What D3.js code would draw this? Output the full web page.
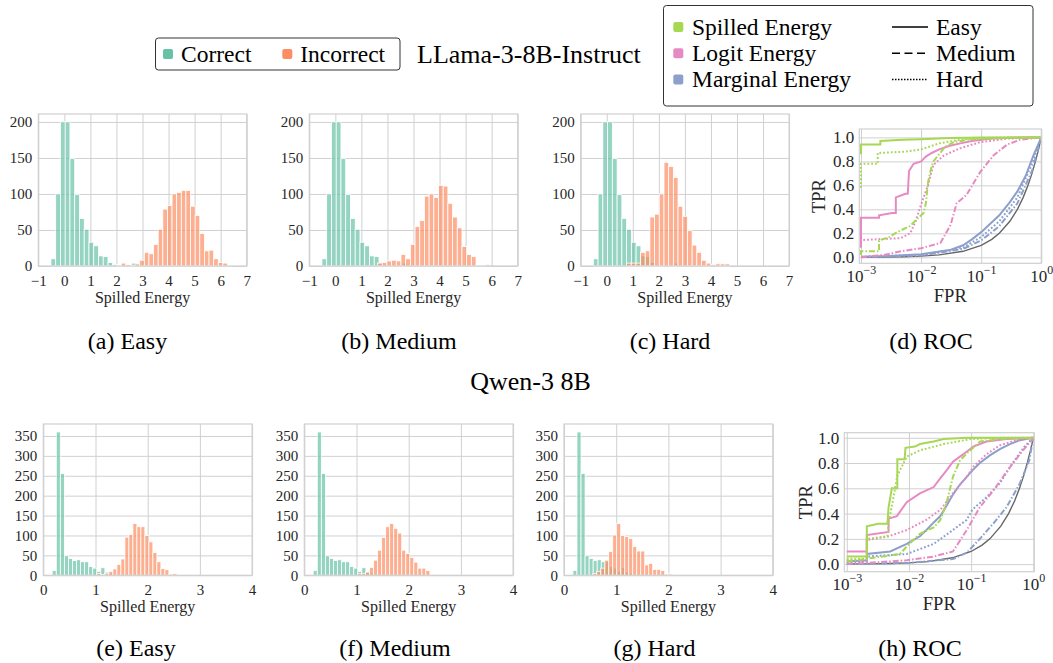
<!DOCTYPE html>
<html lang="en">
<head>
<meta charset="UTF-8">
<title>Spilled Energy histograms and ROC</title>
<script src="https://cdn.jsdelivr.net/npm/d3@7"></script>
<style>
  body { margin: 0; background: #fff; }
  svg { display: block; }
  svg text { font-family: 'Liberation Serif', 'DejaVu Serif', serif; }
</style>
</head>
<body>
<svg width="1053" height="663"></svg>
<script>
// ---------- histogram data (counts per bin; bin = [first edge, bin width]) ----------
const llamaCorrectBin = [-0.515, 0.1825];
const llamaCorrectCounts = [10, 100, 200, 200, 149, 99, 66, 51, 33, 28, 14, 13, 5, 2, 1, 0, 1, 4];
const llamaEasyBin = [2.006, 0.1774];
const llamaEasyCounts = [1, 4, 2, 1, 3, 8, 19, 17, 30, 51, 79, 84, 100, 102, 105, 105, 83, 70, 45, 21, 22, 10, 5, 4, 1];
const llamaMediumBin = [1.62, 0.18];
const llamaMediumCounts = [4, 5, 7, 8, 7, 16, 10, 30, 55, 63, 97, 100, 95, 112, 111, 87, 68, 53, 27, 16, 13, 1, 1, 2];
const llamaHardBin = [0.757, 0.18];
const llamaHardCounts = [4, 4, 4, 19, 21, 68, 72, 100, 144, 138, 123, 83, 69, 49, 29, 19, 8, 4, 2, 3, 3, 3];

const qwenCorrectBin = [0.171, 0.0776];
const qwenCorrectCounts = [12, 360, 256, 49, 42, 37, 39, 34, 34, 22, 18, 10, 19, 8, 5];
const qwenEasyBin = [1.027, 0.0766];
const qwenEasyCounts = [4, 2, 4, 10, 16, 27, 41, 96, 102, 130, 122, 122, 100, 84, 57, 34, 17, 14, 3, 4];
const qwenMediumBin = [1.02, 0.077];
const qwenMediumCounts = [4, 4, 8, 20, 38, 63, 95, 122, 130, 118, 106, 63, 55, 45, 33, 18, 18, 12];
const qwenHardBin = [0.55, 0.0767];
const qwenHardCounts = [4, 10, 18, 38, 60, 101, 130, 100, 97, 92, 72, 61, 61, 26, 30, 15, 15, 12, 3, 3];

// ---------- ROC data, [FPR, TPR] ----------
const llamaSpilledEasy = [[0.001, 0.86], [0.001, 0.94], [0.0021, 0.94], [0.0021, 0.97], [0.005, 0.98], [0.01, 0.985], [0.03, 0.995], [0.1, 1], [1, 1]];
const llamaSpilledMedium = [[0.001, 0.02], [0.001, 0.05], [0.002, 0.05], [0.002, 0.14], [0.003, 0.17], [0.004, 0.21], [0.0065, 0.26], [0.009, 0.33], [0.011, 0.37], [0.012, 0.45], [0.013, 0.62], [0.0145, 0.73], [0.016, 0.8], [0.02, 0.86], [0.025, 0.92], [0.035, 0.96], [0.06, 0.98], [0.2, 0.995], [1, 1]];
const llamaSpilledHard = [[0.001, 0.58], [0.001, 0.78], [0.0019, 0.78], [0.0019, 0.87], [0.005, 0.88], [0.01, 0.9], [0.02, 0.95], [0.05, 0.985], [0.2, 1], [1, 1]];
const llamaLogitEasy = [[0.001, 0.08], [0.001, 0.33], [0.002, 0.33], [0.002, 0.35], [0.0033, 0.37], [0.0038, 0.37], [0.0038, 0.5], [0.0055, 0.53], [0.006, 0.53], [0.0063, 0.72], [0.0075, 0.78], [0.01, 0.8], [0.012, 0.84], [0.015, 0.87], [0.02, 0.9], [0.03, 0.93], [0.045, 0.95], [0.07, 0.97], [0.15, 0.99], [0.4, 1], [1, 1]];
const llamaLogitMedium = [[0.001, 0.0], [0.0024, 0.02], [0.0046, 0.05], [0.01, 0.075], [0.021, 0.12], [0.031, 0.27], [0.039, 0.45], [0.057, 0.52], [0.096, 0.71], [0.16, 0.85], [0.27, 0.94], [0.44, 0.98], [1, 1]];
const llamaLogitHard = [[0.001, 0.1], [0.001, 0.144], [0.0046, 0.16], [0.0066, 0.2], [0.0081, 0.3], [0.01, 0.44], [0.013, 0.6], [0.016, 0.77], [0.024, 0.85], [0.045, 0.91], [0.096, 0.96], [0.27, 0.99], [0.74, 1], [1, 1]];
const llamaMarginalEasy = [[0.001, 0.005], [0.003, 0.01], [0.01, 0.025], [0.03, 0.06], [0.05, 0.1], [0.07, 0.15], [0.1, 0.21], [0.2, 0.35], [0.3, 0.46], [0.4, 0.55], [0.55, 0.68], [0.74, 0.85], [1, 1]];
const llamaMarginalMedium = [[0.001, 0.002], [0.01, 0.015], [0.05, 0.07], [0.1, 0.14], [0.2, 0.26], [0.4, 0.45], [0.7, 0.72], [1, 1]];
const llamaMarginalHard = [[0.001, 0.004], [0.01, 0.02], [0.05, 0.08], [0.1, 0.17], [0.2, 0.3], [0.4, 0.5], [0.7, 0.78], [1, 1]];

const qwenSpilledEasy = [[0.001, 0.06], [0.0021, 0.06], [0.0021, 0.3], [0.0032, 0.32], [0.0045, 0.32], [0.0047, 0.45], [0.0053, 0.6], [0.0065, 0.6], [0.0065, 0.83], [0.0085, 0.83], [0.0088, 0.92], [0.0125, 0.93], [0.015, 0.95], [0.025, 0.97], [0.036, 0.99], [0.085, 1], [1, 1]];
const qwenSpilledMedium = [[0.001, 0.02], [0.0072, 0.08], [0.0092, 0.14], [0.015, 0.24], [0.025, 0.29], [0.032, 0.35], [0.04, 0.48], [0.051, 0.69], [0.066, 0.82], [0.096, 0.9], [0.14, 0.97], [0.29, 0.99], [1, 1]];
const qwenSpilledHard = [[0.001, 0.04], [0.0021, 0.04], [0.0021, 0.2], [0.0045, 0.22], [0.0047, 0.33], [0.0055, 0.5], [0.0065, 0.7], [0.0092, 0.85], [0.015, 0.9], [0.036, 0.95], [0.1, 0.99], [0.3, 1], [1, 1]];
const qwenLogitEasy = [[0.001, 0.1], [0.0021, 0.1], [0.0021, 0.23], [0.0047, 0.255], [0.0047, 0.36], [0.0064, 0.38], [0.0092, 0.49], [0.015, 0.56], [0.025, 0.61], [0.032, 0.68], [0.04, 0.74], [0.051, 0.81], [0.075, 0.87], [0.108, 0.93], [0.177, 0.97], [0.37, 0.99], [1, 1]];
const qwenLogitMedium = [[0.001, 0.0], [0.0092, 0.03], [0.025, 0.06], [0.051, 0.1], [0.085, 0.27], [0.138, 0.45], [0.226, 0.58], [0.37, 0.73], [0.61, 0.87], [1, 1]];
const qwenLogitHard = [[0.001, 0.03], [0.0021, 0.03], [0.0021, 0.19], [0.0047, 0.22], [0.0092, 0.27], [0.019, 0.35], [0.032, 0.43], [0.051, 0.56], [0.085, 0.69], [0.108, 0.77], [0.177, 0.87], [0.29, 0.94], [0.53, 0.98], [1, 1]];
const qwenMarginalEasy = [[0.001, 0.02], [0.0021, 0.03], [0.0021, 0.08], [0.005, 0.1], [0.0092, 0.16], [0.015, 0.22], [0.02, 0.28], [0.025, 0.33], [0.032, 0.38], [0.04, 0.46], [0.051, 0.55], [0.066, 0.63], [0.085, 0.69], [0.104, 0.74], [0.138, 0.8], [0.2, 0.86], [0.29, 0.91], [0.42, 0.95], [0.6, 0.98], [1, 1]];
const qwenMarginalMedium = [[0.001, 0.0], [0.01, 0.01], [0.051, 0.04], [0.085, 0.09], [0.138, 0.2], [0.226, 0.32], [0.37, 0.45], [0.61, 0.64], [0.86, 0.82], [1, 1]];
const qwenMarginalHard = [[0.001, 0.01], [0.0021, 0.02], [0.0021, 0.06], [0.0092, 0.08], [0.025, 0.16], [0.051, 0.27], [0.085, 0.35], [0.104, 0.43], [0.177, 0.53], [0.29, 0.64], [0.45, 0.79], [0.72, 0.93], [1, 1]];

// chance diagonal (TPR = FPR)
const chanceLine = [[0.001, 0.001], [0.002, 0.002], [0.005, 0.005], [0.01, 0.01], [0.02, 0.02], [0.05, 0.05], [0.1, 0.1], [0.15, 0.15], [0.2, 0.2], [0.3, 0.3], [0.4, 0.4], [0.5, 0.5], [0.6, 0.6], [0.7, 0.7], [0.8, 0.8], [0.9, 0.9], [1, 1]];

// ---------- ticks and labels ----------
const llamaHistXTicks = [-1, 0, 1, 2, 3, 4, 5, 6, 7];
const llamaHistYTicks = [0, 50, 100, 150, 200];
const qwenHistXTicks = [0, 1, 2, 3, 4];
const qwenHistYTicks = [0, 50, 100, 150, 200, 250, 300, 350];
const rocXTicks = [0.001, 0.01, 0.1, 1];
const rocYTicks = [0, 0.2, 0.4, 0.6, 0.8, 1.0];
const methods = ['Spilled Energy', 'Logit Energy', 'Marginal Energy'];
const levels = ['Easy', 'Medium', 'Hard'];
const outcomes = ['Correct', 'Incorrect'];

// ---------- styling ----------
const serif = 'Liberation Serif, DejaVu Serif, serif';
const outcomeColor = { Correct: '#66c2a5', Incorrect: '#fc8d62' };
const methodColor = { 'Spilled Energy': '#a6d854', 'Logit Energy': '#e78ac3', 'Marginal Energy': '#8da0cb' };
const levelDash = { Easy: null, Medium: '6,2,1.5,2', Hard: '1.8,2' };
const gridColor = '#d0d0d0';
const tickColor = '#262626';

const svg = d3.select('svg');
svg.append('rect').attr('width', 1053).attr('height', 663).attr('fill', '#fff');

function styleAxis(g, size) {
    g.select('.domain').remove();
    g.selectAll('.tick line').attr('stroke', gridColor).attr('stroke-width', 1);
    g.selectAll('.tick text').attr('fill', tickColor);
    g.attr('font-family', serif).attr('font-size', size);
}

function drawHist(p) {
    const x = d3.scaleLinear().domain(p.xDomain).range([p.left, p.right]);
    const y = d3.scaleLinear().domain(p.yDomain).range([p.bottom, p.top]);
    const h = p.bottom - p.top, w = p.right - p.left;

    svg.append('g')
        .attr('transform', `translate(0,${p.bottom})`)
        .call(d3.axisBottom(x).tickValues(p.xTicks).tickSize(-h).tickPadding(9.5)
            .tickFormat(d => d < 0 ? '\u2212' + Math.abs(d) : d))
        .call(g => styleAxis(g, 15));

    svg.append('g')
        .attr('transform', `translate(${p.left},0)`)
        .call(d3.axisLeft(y).tickValues(p.yTicks).tickSize(-w).tickPadding(6))
        .call(g => styleAxis(g, 15));

    p.series.forEach(s => {
        const [start, bw] = s.bin;
        svg.append('g').selectAll('rect')
            .data(s.counts)
            .join('rect')
            .attr('x', (d, i) => x(start + i * bw))
            .attr('width', (d, i) => x(start + (i + 1) * bw) - x(start + i * bw))
            .attr('y', d => y(d))
            .attr('height', d => y(0) - y(d))
            .attr('fill', outcomeColor[s.outcome])
            .attr('fill-opacity', 0.7)
            .attr('stroke', '#fff')
            .attr('stroke-width', 0.8);
    });

    svg.append('rect')
        .attr('x', p.left).attr('y', p.top).attr('width', w).attr('height', h)
        .attr('fill', 'none').attr('stroke', gridColor).attr('stroke-width', 1.2);

    svg.append('text')
        .attr('x', (p.left + p.right) / 2).attr('y', p.bottom + 36.5)
        .attr('text-anchor', 'middle')
        .attr('font-family', serif).attr('font-size', 16).attr('fill', tickColor)
        .text('Spilled Energy');
}

function drawRoc(p) {
    const x = d3.scaleLog().domain(p.xDomain).range([p.left, p.right]);
    const y = d3.scaleLinear().domain(p.yDomain).range([p.bottom, p.top]);
    const h = p.bottom - p.top, w = p.right - p.left;

    const xa = svg.append('g')
        .attr('transform', `translate(0,${p.bottom})`)
        .call(d3.axisBottom(x).tickValues(rocXTicks).tickSize(-h).tickPadding(6).tickFormat(''))
        .call(g => styleAxis(g, 17));
    xa.selectAll('.tick text')
        .attr('dy', null)
        .attr('y', 18.4)
        .each(function (d) {
            const e = Math.round(Math.log10(d));
            const t = d3.select(this);
            t.append('tspan').text('10');
            t.append('tspan').attr('dy', -8).attr('font-size', 12)
                .text(e < 0 ? '\u2212' + Math.abs(e) : e);
        });

    svg.append('g')
        .attr('transform', `translate(${p.left},0)`)
        .call(d3.axisLeft(y).tickValues(rocYTicks).tickSize(-w).tickPadding(5).tickFormat(d3.format('.1f')))
        .call(g => styleAxis(g, 17));

    const clipId = 'clip-' + p.key;
    svg.append('clipPath').attr('id', clipId)
        .append('rect').attr('x', p.left).attr('y', p.top).attr('width', w).attr('height', h);

    const line = d3.line().x(d => x(d[0])).y(d => y(d[1]));
    const plot = svg.append('g').attr('clip-path', `url(#${clipId})`);

    plot.append('path').attr('d', line(chanceLine))
        .attr('fill', 'none').attr('stroke', '#666').attr('stroke-width', 1.4);

    plot.selectAll('path.roc')
        .data(p.curves)
        .join('path')
        .attr('class', 'roc')
        .attr('d', c => line(c.points))
        .attr('fill', 'none')
        .attr('stroke', c => methodColor[c.method])
        .attr('stroke-width', 2)
        .attr('stroke-dasharray', c => levelDash[c.level]);

    svg.append('rect')
        .attr('x', p.left).attr('y', p.top).attr('width', w).attr('height', h)
        .attr('fill', 'none').attr('stroke', gridColor).attr('stroke-width', 1.2);

    svg.append('text')
        .attr('x', (p.left + p.right) / 2).attr('y', p.bottom + 38.4)
        .attr('text-anchor', 'middle')
        .attr('font-family', serif).attr('font-size', 18.5).attr('fill', tickColor)
        .text('FPR');
    svg.append('text')
        .attr('transform', `translate(${p.tprX},${(p.top + p.bottom) / 2}) rotate(-90)`)
        .attr('text-anchor', 'middle').attr('dy', '0.35em')
        .attr('font-family', serif).attr('font-size', 18.5).attr('fill', tickColor)
        .text('TPR');
}

// ---------- panels ----------
const llamaHists = [
    { left: 38.3, bin: llamaEasyBin, counts: llamaEasyCounts },
    { left: 309.3, bin: llamaMediumBin, counts: llamaMediumCounts },
    { left: 580.7, bin: llamaHardBin, counts: llamaHardCounts }
];
llamaHists.forEach(hp => drawHist({
    left: hp.left, right: hp.left + 208.4, top: 114, bottom: 266,
    xDomain: [-1, 7], yDomain: [0, 211], xTicks: llamaHistXTicks, yTicks: llamaHistYTicks,
    series: [
        { outcome: outcomes[0], bin: llamaCorrectBin, counts: llamaCorrectCounts },
        { outcome: outcomes[1], bin: hp.bin, counts: hp.counts }
    ]
}));

const qwenHists = [
    { left: 43.3, bin: qwenEasyBin, counts: qwenEasyCounts },
    { left: 304.3, bin: qwenMediumBin, counts: qwenMediumCounts },
    { left: 564, bin: qwenHardBin, counts: qwenHardCounts }
];
qwenHists.forEach(hp => drawHist({
    left: hp.left, right: hp.left + 208.8, top: 424, bottom: 575.3,
    xDomain: [0, 4], yDomain: [0, 380], xTicks: qwenHistXTicks, yTicks: qwenHistYTicks,
    series: [
        { outcome: outcomes[0], bin: qwenCorrectBin, counts: qwenCorrectCounts },
        { outcome: outcomes[1], bin: hp.bin, counts: hp.counts }
    ]
}));

const llamaRoc = [
    [llamaSpilledEasy, llamaSpilledMedium, llamaSpilledHard],
    [llamaLogitEasy, llamaLogitMedium, llamaLogitHard],
    [llamaMarginalEasy, llamaMarginalMedium, llamaMarginalHard]
];
const qwenRoc = [
    [qwenSpilledEasy, qwenSpilledMedium, qwenSpilledHard],
    [qwenLogitEasy, qwenLogitMedium, qwenLogitHard],
    [qwenMarginalEasy, qwenMarginalMedium, qwenMarginalHard]
];
function curveTable(sets) {
    const rows = [];
    // marginal first so spilled sits on top
    for (let m = methods.length - 1; m >= 0; m--) {
        levels.forEach((lv, l) => rows.push({ method: methods[m], level: lv, points: sets[m][l] }));
    }
    return rows;
}

drawRoc({
    key: 'd', left: 859.3, right: 1041.3, top: 129, bottom: 263.3, tprX: 819,
    xDomain: [Math.pow(10, -3.028), 1], yDomain: [-0.05, 1.07], curves: curveTable(llamaRoc)
});
drawRoc({
    key: 'h', left: 844.3, right: 1034.3, top: 432.7, bottom: 571.7, tprX: 806,
    xDomain: [Math.pow(10, -3.04), Math.pow(10, 0.016)], yDomain: [-0.06, 1.04], curves: curveTable(qwenRoc)
});

// ---------- captions and titles ----------
const captions = [
    ['(a) Easy', 127.5, 349], ['(b) Medium', 399, 349], ['(c) Hard', 670, 349], ['(d) ROC', 931, 349],
    ['(e) Easy', 136, 656], ['(f) Medium', 395, 656], ['(g) Hard', 654.5, 656], ['(h) ROC', 920, 656]
];
svg.append('g').selectAll('text')
    .data(captions)
    .join('text')
    .attr('x', d => d[1]).attr('y', d => d[2])
    .attr('text-anchor', 'middle')
    .attr('font-family', serif).attr('font-size', 24).attr('fill', '#000')
    .text(d => d[0]);

svg.append('text').attr('x', 417).attr('y', 63)
    .attr('font-family', serif).attr('font-size', 26).attr('fill', '#000')
    .text('LLama-3-8B-Instruct');
svg.append('text').attr('x', 530.5).attr('y', 390).attr('text-anchor', 'middle')
    .attr('font-family', serif).attr('font-size', 26).attr('fill', '#000')
    .text('Qwen-3 8B');

// legend: outcomes
const leg1 = svg.append('g');
leg1.append('rect').attr('x', 155.5).attr('y', 38).attr('width', 244.5).attr('height', 32)
    .attr('rx', 3).attr('fill', '#fff').attr('stroke', '#333').attr('stroke-width', 1);
outcomes.forEach((o, i) => {
    const mx = [168, 287.3][i];
    leg1.append('rect').attr('x', mx - 5).attr('y', 49).attr('width', 10).attr('height', 10).attr('rx', 2)
        .attr('fill', outcomeColor[o]);
    leg1.append('text').attr('x', mx + 13).attr('y', 62)
        .attr('font-family', serif).attr('font-size', 23.5).attr('fill', '#000').text(o);
});

// legend: methods and difficulty
const leg2 = svg.append('g');
leg2.append('rect').attr('x', 663.5).attr('y', 5.5).attr('width', 369.5).attr('height', 100.5)
    .attr('rx', 3).attr('fill', '#fff').attr('stroke', '#333').attr('stroke-width', 1);
const rowY = [27, 53.3, 79.5];
methods.forEach((m, i) => {
    leg2.append('rect').attr('x', 673.3).attr('y', rowY[i] - 5).attr('width', 10).attr('height', 10).attr('rx', 2)
        .attr('fill', methodColor[m]);
    leg2.append('text').attr('x', 692).attr('y', rowY[i] + 7.5)
        .attr('font-family', serif).attr('font-size', 23.5).attr('fill', '#000').text(m);
});
const legendDash = { Easy: null, Medium: '8,4.5', Hard: '1.5,1.5' };
levels.forEach((lv, i) => {
    leg2.append('line').attr('x1', 892).attr('x2', 928).attr('y1', rowY[i]).attr('y2', rowY[i])
        .attr('stroke', '#000').attr('stroke-width', 1.5).attr('stroke-dasharray', legendDash[lv]);
    leg2.append('text').attr('x', 936).attr('y', rowY[i] + 7.5)
        .attr('font-family', serif).attr('font-size', 23.5).attr('fill', '#000').text(lv);
});
</script>
</body>
</html>
